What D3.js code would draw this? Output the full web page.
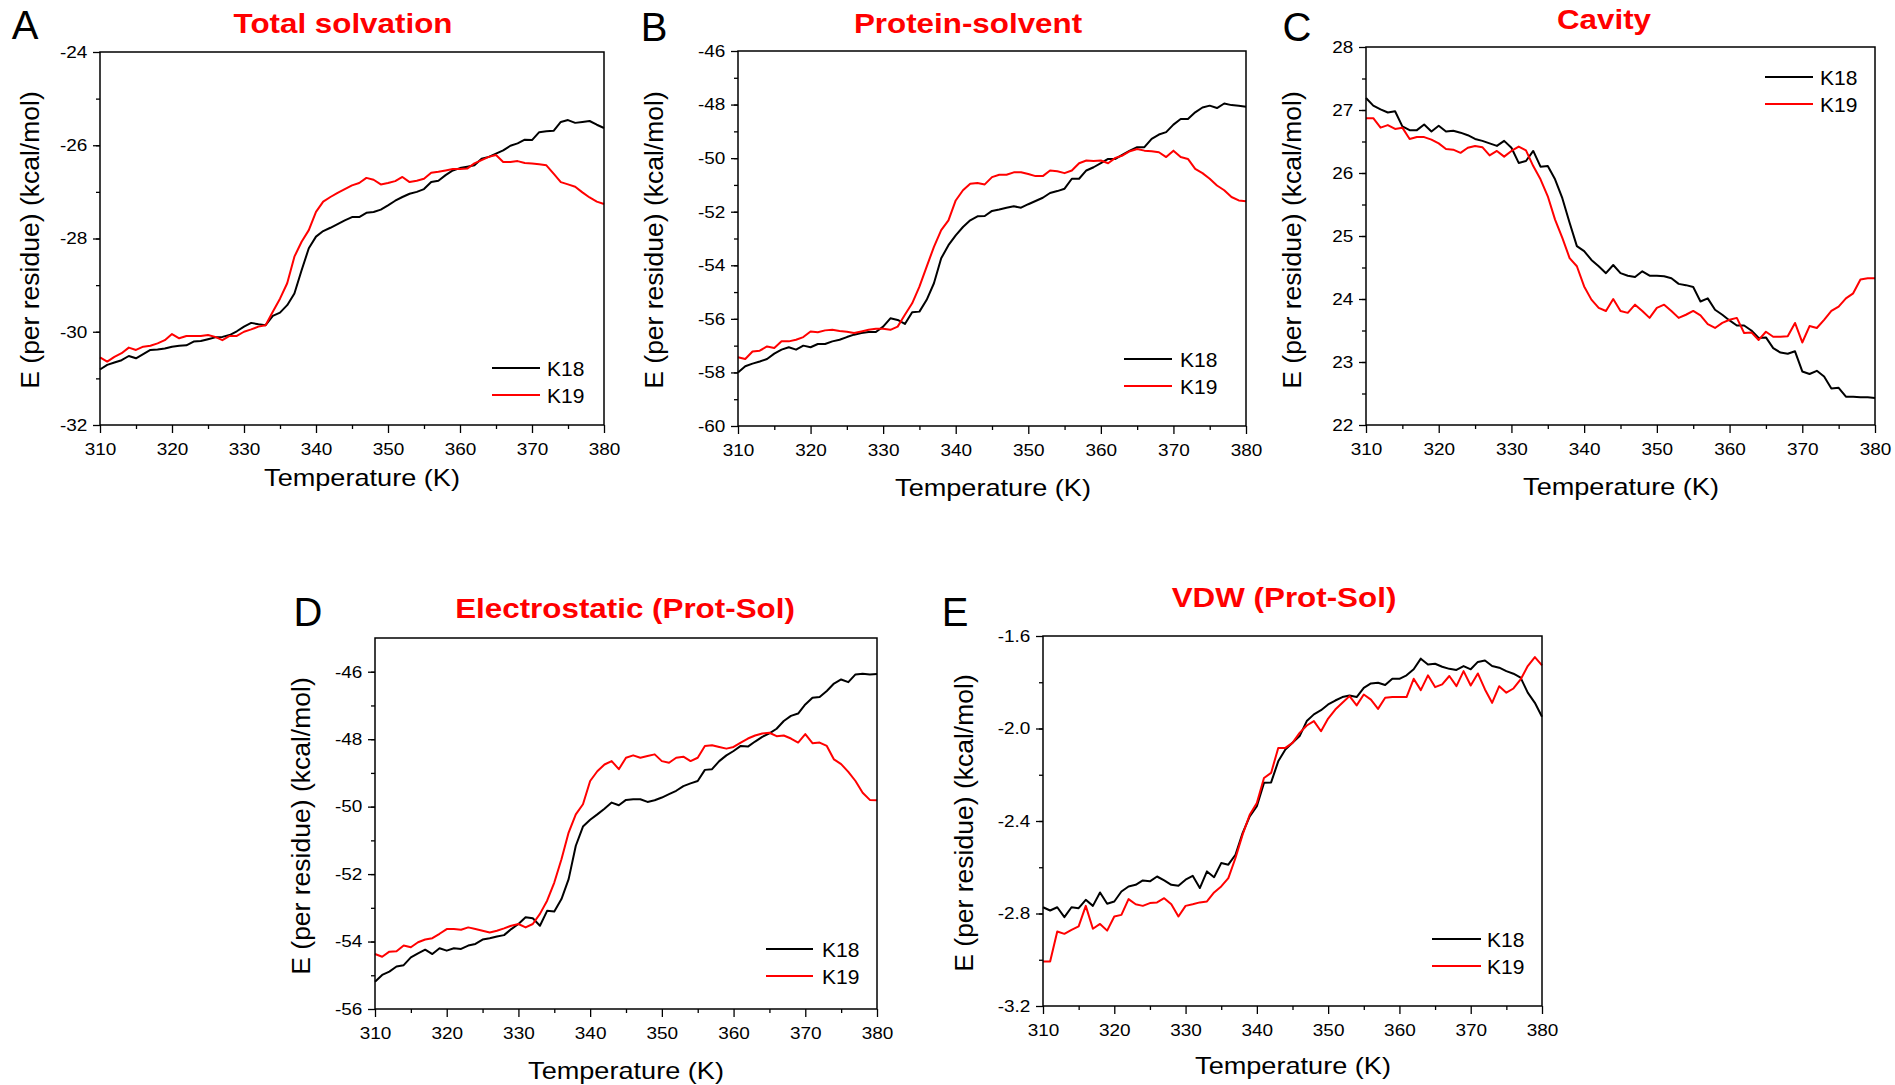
<!DOCTYPE html>
<html>
<head>
<meta charset="utf-8">
<script src="https://d3js.org/d3.v7.min.js"></script>
<style>
    body { margin: 0; background: #fff; }
    svg { font-family: "Liberation Sans", Arial, sans-serif; }
    .tick text { font-size: 16.5px; fill: #000; }
    .tick line { stroke: #000; stroke-width: 1.3; }
    .frame { fill: none; stroke: #000; stroke-width: 1.5; }
    .title { fill: #ff0000; font-weight: bold; font-size: 28px; text-anchor: middle; }
    .letter { font-size: 40px; fill: #000; text-anchor: middle; }
    .axis-label { fill: #000; text-anchor: middle; }
    .legend text { font-size: 21px; fill: #000; }
    .series { fill: none; stroke-width: 2; stroke-linejoin: round; }
</style>
</head>
<body>
<svg width="1895" height="1085"></svg>
<script>

// temperatures (K)
var temps = [310,311,312,313,314,315,316,317,318,319,
             320,321,322,323,324,325,326,327,328,329,
             330,331,332,333,334,335,336,337,338,339,
             340,341,342,343,344,345,346,347,348,349,
             350,351,352,353,354,355,356,357,358,359,
             360,361,362,363,364,365,366,367,368,369,
             370,371,372,373,374,375,376,377,378,379,380];

var seriesNames = ["K18", "K19"];
var xTicks = [310, 320, 330, 340, 350, 360, 370, 380];
var xMinorTicks = [315, 325, 335, 345, 355, 365, 375];

// A - total solvation
var totalK18 = [-30.81,-30.71,-30.66,-30.61,-30.52,-30.57,-30.48,-30.39,-30.38,-30.36,
                -30.32,-30.30,-30.29,-30.21,-30.20,-30.16,-30.12,-30.11,-30.07,-29.99,
                -29.89,-29.81,-29.84,-29.86,-29.66,-29.59,-29.43,-29.18,-28.68,-28.21,
                -27.96,-27.84,-27.77,-27.69,-27.61,-27.54,-27.54,-27.45,-27.43,-27.38,
                -27.29,-27.19,-27.11,-27.04,-27.00,-26.94,-26.79,-26.76,-26.64,-26.54,
                -26.49,-26.46,-26.43,-26.29,-26.25,-26.18,-26.11,-26.01,-25.96,-25.88,
                -25.89,-25.72,-25.70,-25.69,-25.50,-25.46,-25.52,-25.50,-25.48,-25.56,-25.63];
var totalK19 = [-30.55,-30.64,-30.54,-30.46,-30.34,-30.39,-30.32,-30.30,-30.25,-30.18,
                -30.05,-30.14,-30.09,-30.09,-30.09,-30.07,-30.11,-30.18,-30.09,-30.09,
                -30.00,-29.95,-29.89,-29.86,-29.57,-29.29,-28.96,-28.39,-28.07,-27.82,
                -27.43,-27.21,-27.11,-27.02,-26.94,-26.86,-26.81,-26.70,-26.74,-26.84,
                -26.81,-26.77,-26.68,-26.79,-26.76,-26.72,-26.59,-26.57,-26.54,-26.51,
                -26.51,-26.50,-26.39,-26.32,-26.25,-26.21,-26.36,-26.36,-26.34,-26.38,
                -26.39,-26.41,-26.43,-26.61,-26.79,-26.84,-26.89,-27.01,-27.12,-27.21,-27.26];
var totalTicks = [-32, -30, -28, -26, -24];

// B - protein-solvent
var protK18 = [-58.00,-57.77,-57.67,-57.59,-57.50,-57.30,-57.15,-57.06,-57.15,-57.00,
               -57.06,-56.94,-56.94,-56.84,-56.78,-56.68,-56.59,-56.53,-56.49,-56.49,
               -56.29,-55.98,-56.04,-56.19,-55.75,-55.73,-55.29,-54.67,-53.74,-53.25,
               -52.88,-52.57,-52.32,-52.17,-52.16,-51.97,-51.92,-51.85,-51.80,-51.85,
               -51.72,-51.60,-51.48,-51.30,-51.23,-51.14,-50.77,-50.77,-50.46,-50.34,
               -50.19,-50.03,-50.03,-49.87,-49.72,-49.59,-49.59,-49.28,-49.12,-49.03,
               -48.75,-48.54,-48.54,-48.29,-48.11,-48.04,-48.13,-47.96,-48.02,-48.04,-48.08];
var protK19 = [-57.43,-57.50,-57.22,-57.19,-57.03,-57.09,-56.84,-56.84,-56.78,-56.68,
               -56.47,-56.50,-56.43,-56.41,-56.45,-56.48,-56.53,-56.47,-56.41,-56.37,
               -56.37,-56.41,-56.29,-55.85,-55.42,-54.80,-54.05,-53.31,-52.69,-52.32,
               -51.58,-51.20,-50.96,-50.93,-50.98,-50.71,-50.62,-50.62,-50.53,-50.53,
               -50.59,-50.67,-50.67,-50.46,-50.49,-50.56,-50.46,-50.19,-50.09,-50.11,
               -50.09,-50.19,-49.99,-49.90,-49.74,-49.66,-49.72,-49.74,-49.78,-49.96,
               -49.72,-49.96,-50.03,-50.40,-50.56,-50.77,-51.02,-51.20,-51.45,-51.58,-51.61];
var protTicks = [-60, -58, -56, -54, -52, -50, -48, -46];

// C - cavity
var cavK18 = [27.19,27.07,27.01,26.96,26.98,26.74,26.68,26.68,26.77,26.66,
              26.75,26.66,26.67,26.64,26.60,26.54,26.51,26.47,26.43,26.51,
              26.40,26.16,26.19,26.35,26.10,26.11,25.90,25.60,25.21,24.84,
              24.76,24.62,24.52,24.41,24.54,24.41,24.37,24.35,24.44,24.37,
              24.37,24.36,24.33,24.24,24.22,24.19,23.96,24.01,23.83,23.75,
              23.66,23.58,23.58,23.50,23.38,23.39,23.22,23.15,23.13,23.17,
              22.85,22.81,22.86,22.77,22.58,22.59,22.45,22.45,22.44,22.44,22.43];
var cavK19 = [26.87,26.87,26.72,26.76,26.70,26.72,26.54,26.57,26.57,26.53,
              26.47,26.38,26.37,26.32,26.40,26.43,26.41,26.28,26.35,26.26,
              26.35,26.42,26.36,26.11,25.90,25.63,25.26,24.97,24.65,24.52,
              24.20,23.99,23.86,23.81,24.00,23.81,23.78,23.91,23.81,23.70,
              23.86,23.91,23.81,23.70,23.75,23.81,23.74,23.60,23.54,23.62,
              23.67,23.70,23.46,23.47,23.35,23.48,23.40,23.40,23.41,23.62,
              23.31,23.57,23.54,23.67,23.81,23.88,24.01,24.09,24.31,24.33,24.33];
var cavTicks = [22, 23, 24, 25, 26, 27, 28];

// D - electrostatic (prot-sol)
var elecK18 = [-55.19,-54.99,-54.89,-54.74,-54.70,-54.47,-54.35,-54.24,-54.37,-54.20,
               -54.27,-54.20,-54.22,-54.12,-54.07,-53.94,-53.90,-53.85,-53.81,-53.63,
               -53.48,-53.28,-53.31,-53.53,-53.09,-53.11,-52.74,-52.15,-51.16,-50.59,
               -50.39,-50.23,-50.06,-49.88,-49.96,-49.80,-49.78,-49.78,-49.86,-49.81,
               -49.73,-49.63,-49.53,-49.39,-49.31,-49.24,-48.91,-48.89,-48.65,-48.48,
               -48.35,-48.20,-48.22,-48.07,-47.93,-47.83,-47.69,-47.46,-47.31,-47.24,
               -46.97,-46.77,-46.75,-46.57,-46.35,-46.23,-46.31,-46.08,-46.06,-46.08,-46.07];
var elecK19 = [-54.37,-54.45,-54.30,-54.29,-54.12,-54.17,-54.02,-53.94,-53.90,-53.77,
               -53.63,-53.63,-53.65,-53.58,-53.63,-53.68,-53.73,-53.68,-53.61,-53.53,
               -53.48,-53.58,-53.48,-53.18,-52.79,-52.25,-51.56,-50.77,-50.23,-49.93,
               -49.24,-48.95,-48.75,-48.65,-48.89,-48.55,-48.48,-48.55,-48.50,-48.45,
               -48.65,-48.70,-48.55,-48.52,-48.65,-48.55,-48.20,-48.18,-48.23,-48.28,
               -48.23,-48.10,-47.98,-47.89,-47.83,-47.81,-47.91,-47.89,-47.98,-48.10,
               -47.85,-48.12,-48.10,-48.20,-48.60,-48.74,-48.97,-49.24,-49.59,-49.80,-49.81];
var elecTicks = [-56, -54, -52, -50, -48, -46];

// E - VDW (prot-sol)
var vdwK18 = [-2.773,-2.787,-2.773,-2.816,-2.773,-2.777,-2.741,-2.767,-2.709,-2.758,
              -2.748,-2.705,-2.683,-2.676,-2.657,-2.661,-2.640,-2.657,-2.676,-2.680,
              -2.654,-2.637,-2.690,-2.618,-2.643,-2.582,-2.589,-2.546,-2.452,-2.380,
              -2.336,-2.235,-2.233,-2.142,-2.091,-2.062,-2.033,-1.968,-1.939,-1.921,
              -1.896,-1.879,-1.864,-1.857,-1.864,-1.824,-1.805,-1.802,-1.812,-1.785,
              -1.785,-1.770,-1.744,-1.698,-1.723,-1.720,-1.733,-1.742,-1.747,-1.730,
              -1.744,-1.712,-1.706,-1.730,-1.737,-1.752,-1.763,-1.780,-1.845,-1.889,-1.949];
var vdwK19 = [-3.008,-3.008,-2.878,-2.888,-2.871,-2.856,-2.767,-2.866,-2.845,-2.874,
              -2.813,-2.806,-2.738,-2.760,-2.767,-2.755,-2.752,-2.734,-2.760,-2.813,
              -2.767,-2.760,-2.752,-2.748,-2.709,-2.683,-2.647,-2.560,-2.459,-2.373,
              -2.322,-2.214,-2.192,-2.084,-2.084,-2.062,-2.019,-1.987,-1.968,-2.012,
              -1.957,-1.918,-1.889,-1.860,-1.900,-1.853,-1.875,-1.915,-1.867,-1.864,
              -1.864,-1.864,-1.785,-1.834,-1.770,-1.821,-1.809,-1.773,-1.817,-1.752,
              -1.814,-1.762,-1.831,-1.889,-1.817,-1.845,-1.827,-1.788,-1.730,-1.691,-1.727];
var vdwTicks = [-3.2, -2.8, -2.4, -2.0, -1.6];

var colors = ["#000000", "#ff0000"];

// the source figure is a little stretched sideways, so texts get a horizontal scale
var stretch = 1.15;

// layout of each panel (plot box, text anchors, legend spot)
var panels = [
    { letter: "A", title: "Total solvation", k18: totalK18, k19: totalK19,
      yDomain: [-32, -24], yTicks: totalTicks, yMinor: 1, dec: 0,
      box: [100, 604, 52, 425], letterPos: [25, 25], titlePos: [343, 23],
      xLab: [362, 477], yLab: [29, 240], legend: [492, 540, 368, 547] },
    { letter: "B", title: "Protein-solvent", k18: protK18, k19: protK19,
      yDomain: [-60, -46], yTicks: protTicks, yMinor: 1, dec: 0,
      box: [738, 1246, 51, 426], letterPos: [654, 27], titlePos: [968, 23],
      xLab: [993, 487], yLab: [653, 240], legend: [1124, 1172, 359, 1180] },
    { letter: "C", title: "Cavity", k18: cavK18, k19: cavK19,
      yDomain: [22, 28], yTicks: cavTicks, yMinor: 0.5, dec: 0,
      box: [1366, 1875, 47, 425], letterPos: [1297, 27], titlePos: [1604, 19],
      xLab: [1621, 486], yLab: [1291, 240], legend: [1765, 1813, 77, 1820] },
    { letter: "D", title: "Electrostatic (Prot-Sol)", k18: elecK18, k19: elecK19,
      yDomain: [-56, -45], yTicks: elecTicks, yMinor: 1, dec: 0,
      box: [375, 877, 638, 1009], letterPos: [308, 612], titlePos: [625, 608],
      xLab: [626, 1070], yLab: [300, 826], legend: [766, 813, 949, 822] },
    { letter: "E", title: "VDW (Prot-Sol)", k18: vdwK18, k19: vdwK19,
      yDomain: [-3.2, -1.6], yTicks: vdwTicks, yMinor: 0.2, dec: 1,
      box: [1043, 1542, 636, 1006], letterPos: [955, 612], titlePos: [1284, 597],
      xLab: [1293, 1065], yLab: [963, 823], legend: [1432, 1481, 939, 1487] }
];

var svg = d3.select("svg");

panels.forEach(function(p) {
    var x0 = p.box[0], x1 = p.box[1], y0 = p.box[2], y1 = p.box[3];
    var x = d3.scaleLinear().domain([310, 380]).range([x0, x1]);
    var y = d3.scaleLinear().domain(p.yDomain).range([y1, y0]);
    var g = svg.append("g");

    // minor ticks
    var yMinorVals = d3.range(p.yDomain[0], p.yDomain[1] + 1e-9, p.yMinor)
        .filter(function(v) { return v > p.yDomain[0] + 1e-9 && v < p.yDomain[1] - 1e-9; });
    g.append("g")
        .attr("transform", "translate(" + x0 + ",0)")
        .call(d3.axisLeft(y).tickValues(yMinorVals).tickSize(4).tickSizeOuter(0).tickFormat(""))
        .call(function(a) { a.select(".domain").remove(); });
    g.append("g")
        .attr("transform", "translate(0," + y1 + ")")
        .call(d3.axisBottom(x).tickValues(xMinorTicks).tickSize(4).tickSizeOuter(0).tickFormat(""))
        .call(function(a) { a.select(".domain").remove(); });

    // major ticks
    g.append("g")
        .attr("transform", "translate(" + x0 + ",0)")
        .call(d3.axisLeft(y).tickValues(p.yTicks).tickSize(7).tickSizeOuter(0).tickPadding(4)
            .tickFormat(function(d) { return d.toFixed(p.dec); }))
        .call(function(a) { a.select(".domain").remove(); });
    g.append("g")
        .attr("transform", "translate(0," + y1 + ")")
        .call(d3.axisBottom(x).tickValues(xTicks).tickSize(8).tickSizeOuter(0).tickPadding(10)
            .tickFormat(function(d) { return d; }))
        .call(function(a) { a.select(".domain").remove(); });

    g.selectAll(".tick text")
        .attr("font-family", null)
        .attr("transform", "scale(" + stretch + ",1)");

    // series
    var line = d3.line()
        .x(function(d, i) { return x(temps[i]); })
        .y(function(d) { return y(d); });
    [p.k18, p.k19].forEach(function(vals, i) {
        g.append("path")
            .datum(vals)
            .attr("class", "series")
            .attr("stroke", colors[i])
            .attr("d", line);
    });

    g.append("rect")
        .attr("class", "frame")
        .attr("x", x0).attr("y", y0)
        .attr("width", x1 - x0).attr("height", y1 - y0);

    // legend
    var lg = g.append("g").attr("class", "legend");
    seriesNames.forEach(function(name, i) {
        var ly = p.legend[2] + i * 27;
        lg.append("line")
            .attr("x1", p.legend[0]).attr("x2", p.legend[1])
            .attr("y1", ly).attr("y2", ly)
            .attr("stroke", colors[i]).attr("stroke-width", 2);
        lg.append("text")
            .attr("x", p.legend[3]).attr("y", ly)
            .attr("dy", "0.36em")
            .text(name);
    });

    // texts
    g.append("text").attr("class", "title")
        .attr("transform", "translate(" + p.titlePos[0] + "," + p.titlePos[1] + ") scale(1.12,1)")
        .attr("dy", "0.36em")
        .text(p.title);
    g.append("text").attr("class", "letter")
        .attr("x", p.letterPos[0]).attr("y", p.letterPos[1]).attr("dy", "0.36em")
        .text(p.letter);
    g.append("text").attr("class", "axis-label")
        .attr("transform", "translate(" + p.xLab[0] + "," + p.xLab[1] + ") scale(1.13,1)")
        .attr("dy", "0.36em")
        .style("font-size", "24px")
        .text("Temperature (K)");
    g.append("text").attr("class", "axis-label")
        .attr("transform", "translate(" + p.yLab[0] + "," + p.yLab[1] + ") rotate(-90)")
        .attr("dy", "0.36em")
        .style("font-size", "26.5px")
        .text("E (per residue) (kcal/mol)");
});
</script>
</body>
</html>
